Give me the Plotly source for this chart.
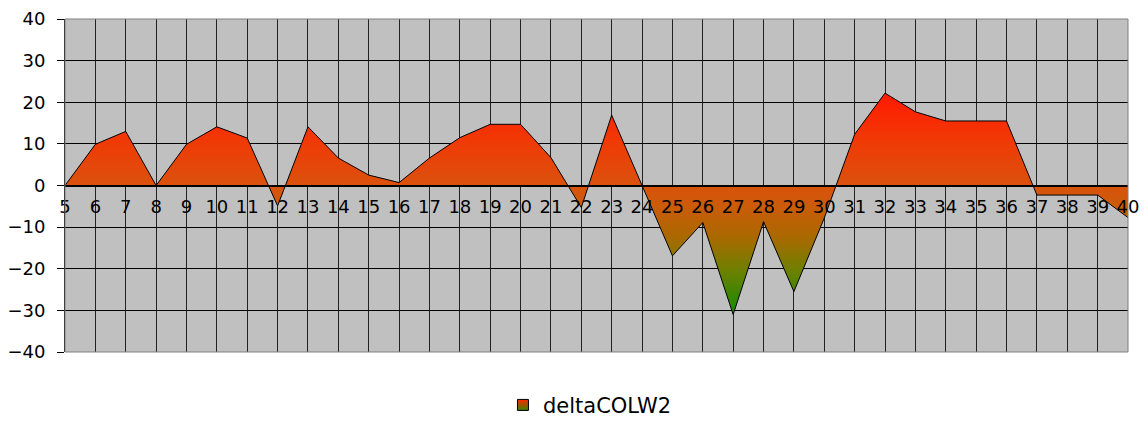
import plotly.graph_objects as go

categories = [str(c) for c in range(5, 41)]
delta_colw2 = [0, 9.9, 13.0, 0, 9.9, 14.1, 11.4, -4.9, 14.1, 6.6,
               2.5, 0.7, 6.6, 11.5, 14.7, 14.7, 6.7, -5.3, 16.9, 0,
               -16.9, -8.9, -31.0, -8.7, -25.5, -7.8, 12.3, 22.2, 17.7, 15.5,
               15.5, 15.5, -2.3, -2.3, -2.3, -7.7]
y_ticks = [-40, -30, -20, -10, 0, 10, 20, 30, 40]
series_name = "deltaCOLW2"

fig = go.Figure()
fig.add_trace(go.Scatter(
    x=categories, y=delta_colw2, name=series_name,
    mode="lines", fill="tozeroy",
    line=dict(color="black", width=1),
    fillgradient=dict(
        type="vertical",
        colorscale=[[0, "rgb(20,140,0)"], [0.2, "rgb(110,128,0)"],
                    [0.35, "rgb(170,105,0)"], [0.5, "rgb(205,90,10)"],
                    [0.6, "rgb(220,80,12)"], [0.8, "rgb(242,55,5)"],
                    [1, "rgb(255,25,0)"]],
    ),
    showlegend=False,
))
# legend entry: small gradient square
fig.add_trace(go.Scatter(
    x=[None], y=[None], name=series_name, mode="markers",
    marker=dict(symbol="square", size=11, color="rgb(255,40,0)",
                gradient=dict(type="vertical", color="rgb(60,130,0)"),
                line=dict(color="black", width=1)),
    showlegend=True,
))

fig.update_layout(
    width=1148, height=425,
    margin=dict(l=57, r=28, t=11, b=81, autoexpand=False),
    paper_bgcolor="white", plot_bgcolor="#C0C0C0",
    font=dict(family="DejaVu Sans, sans-serif", color="black"),
    showlegend=True,
    legend=dict(orientation="h", x=0.412, xanchor="left", y=-0.16, yanchor="middle",
                font=dict(size=21), bgcolor="rgba(0,0,0,0)"),
    xaxis=dict(type="category", range=[0, 35], anchor="free", position=0.5,
               showgrid=True, gridcolor="#222222", gridwidth=1,
               showline=True, linecolor="black", linewidth=2,
               ticks="", tickfont=dict(size=18), ticklabelstandoff=5,
               ticklabeloverflow="allow",
               zeroline=False, fixedrange=True, automargin=False),
    yaxis=dict(range=[-40, 40], tickvals=y_ticks,
               showgrid=True, gridcolor="black", gridwidth=1,
               showline=True, linecolor="black", linewidth=1,
               ticks="outside", ticklen=7, tickcolor="black",
               tickfont=dict(size=18), ticklabelstandoff=8,
               ticklabeloverflow="allow",
               zeroline=False, automargin=False),
    shapes=[dict(type="rect", xref="paper", yref="paper", x0=0, x1=1, y0=0, y1=1,
                 line=dict(color="#808080", width=1), layer="above")],
)

fig.write_html("out.html")
